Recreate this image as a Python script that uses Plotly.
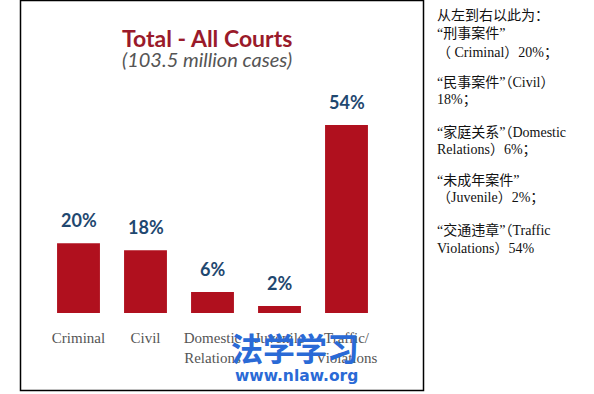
import plotly.graph_objects as go

categories = ["Criminal", "Civil", "Domestic<br>Relations", "Juvenile", "Traffic/<br>Violations"]
values = [20, 18, 6, 2, 54]
value_labels = ["20%", "18%", "6%", "2%", "54%"]

title_text = "Total - All Courts"
subtitle_text = "(103.5 million cases)"

side_lines = [
    "从左到右以此为：",
    "“刑事案件”",
    "（ Criminal）20%；",
    "“民事案件”（Civil）",
    "18%；",
    "“家庭关系”（Domestic",
    "Relations）6%；",
    "“未成年案件”",
    "（Juvenile）2%；",
    "“交通违章”（Traffic",
    "Violations）54%",
]
side_line_y = [15, 33, 53, 82, 100, 132, 150, 180, 198, 230, 248]

W, H = 594, 394
ML, MR, MT, MB = 45, 214, 104, 81
PW, PH = W - ML - MR, H - MT - MB


def px(x):
    return (x - ML) / PW


def py(y):
    return (H - MB - y) / PH


fig = go.Figure()
fig.add_trace(go.Bar(
    x=categories, y=values,
    marker=dict(color="#b0101e", line=dict(width=0)),
    hoverinfo="skip",
))

annotations = []
for c, v, t in zip(categories, values, value_labels):
    annotations.append(dict(
        x=c, y=v, xref="x", yref="y", text=t, showarrow=False,
        yanchor="middle", yshift=23,
        font=dict(family="Lato, Open Sans, sans-serif", size=18, color="#1f4870", weight="bold"),
    ))

annotations.append(dict(
    x=px(207), y=py(38), xref="paper", yref="paper", text="<b>" + title_text + "</b>",
    showarrow=False, xanchor="center", yanchor="middle",
    font=dict(family="Lato, Open Sans, sans-serif", size=23, color="#9a1a2a"),
))
annotations.append(dict(
    x=px(207), y=py(59), xref="paper", yref="paper", text="<i>" + subtitle_text + "</i>",
    showarrow=False, xanchor="center", yanchor="middle",
    font=dict(family="Lato, Open Sans, sans-serif", size=20, color="#555555"),
))

for line, ly in zip(side_lines, side_line_y):
    annotations.append(dict(
        x=px(435), y=py(ly), xref="paper", yref="paper", text=line,
        showarrow=False, xanchor="left", yanchor="middle",
        font=dict(family="Liberation Serif, Noto Sans CJK SC, serif", size=14, color="#111111"),
    ))

# watermark
annotations.append(dict(
    x=px(295), y=py(347), xref="paper", yref="paper", text="<b>法学学习</b>",
    showarrow=False, xanchor="center", yanchor="middle",
    font=dict(family="Noto Sans CJK SC", size=32, color="#2a6ad6"),
))
annotations.append(dict(
    x=px(296), y=py(376), xref="paper", yref="paper", text="<b>www.nlaw.org</b>",
    showarrow=False, xanchor="center", yanchor="middle",
    font=dict(family="DejaVu Sans, sans-serif", size=15.5, color="#2a6ad6"),
))

shapes = [
    dict(type="rect", xref="paper", yref="paper",
         x0=px(20.5), x1=px(423.5), y0=py(390.5), y1=py(0.5),
         line=dict(color="#000000", width=1.5), fillcolor="rgba(0,0,0,0)", layer="below"),
]

fig.update_layout(
    width=W, height=H,
    margin=dict(l=ML, r=MR, t=MT, b=MB),
    paper_bgcolor="white", plot_bgcolor="white",
    bargap=0.36,
    showlegend=False,
    xaxis=dict(
        showgrid=False, zeroline=False, showline=False, ticks="",
        tickfont=dict(family="Liberation Serif, serif", size=15, color="#555555"),
        ticklabelstandoff=14,
    ),
    yaxis=dict(visible=False, range=[0, 60]),
    annotations=annotations,
    shapes=shapes,
)

fig.write_html("out.html")
